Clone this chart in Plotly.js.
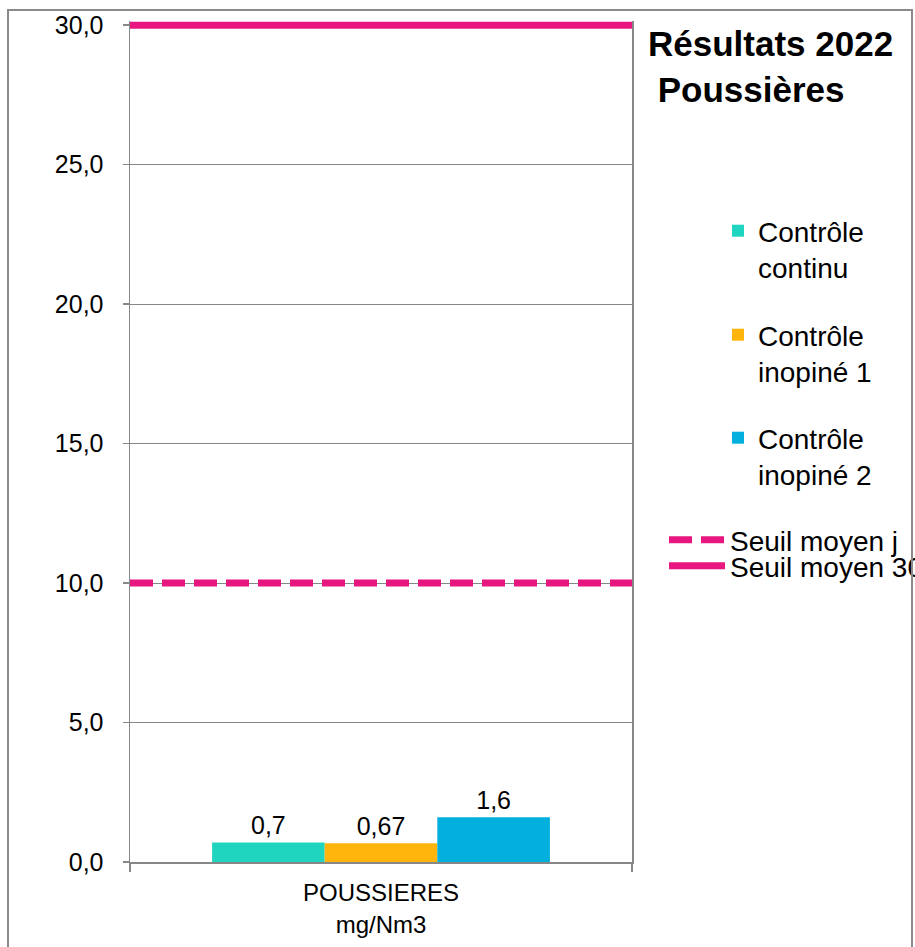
<!DOCTYPE html>
<html>
<head>
<meta charset="utf-8">
<script src="https://cdn.plot.ly/plotly-3.0.1.min.js"></script>
<style>
  html, body { margin: 0; padding: 0; background: #fff; }
  #chart { position: absolute; left: 0; top: 0; width: 915px; height: 947px; }
  #frame { position: absolute; left: 7px; top: 9px; width: 906px; height: 1000px;
           border: 2px solid #8a8a8a; box-sizing: border-box; pointer-events: none; }
</style>
</head>
<body>
<div id="chart"></div>
<div id="frame"></div>
<script>
// ---- data ----
const categories = ["POUSSIERES<br>mg/Nm3"];
const seriesNames = ["Contrôle<br>continu", "Contrôle<br>inopiné 1", "Contrôle<br>inopiné 2"];
const continuValues = [0.7];
const inopine1Values = [0.67];
const inopine2Values = [1.6];
const thresholdNames = ["Seuil moyen j", "Seuil moyen 30"];
const thresholdX = [0, 1];
const seuilJournalier = [10, 10];
const seuil30 = [30, 30];
const yTicks = [0, 5, 10, 15, 20, 25, 30];
const chartTitle = "<b>Résultats 2022</b><br><b>\u00A0Poussières</b>";

// ---- styles ----
const FONT = "Liberation Sans, Arial, sans-serif";
const colors = ["#20D5C0", "#FFB50C", "#02AFDD"];
const pink = "#E8177F";
const grey = "#878787";

const barVals = [continuValues, inopine1Values, inopine2Values];
const legendIds = ["legend", "legend2", "legend3"];

const traces = barVals.map((v, i) => ({
  type: "bar",
  x: categories,
  y: v,
  name: seriesNames[i],
  marker: { color: colors[i] },
  texttemplate: "%{y:.2~f}",
  textposition: "outside",
  textfont: { family: FONT, size: 25, color: "#000" },
  cliponaxis: false,
  legend: legendIds[i],
  hoverinfo: "skip"
}));

traces.push({
  type: "scatter", mode: "lines",
  x: thresholdX, y: seuilJournalier, xaxis: "x2",
  name: thresholdNames[0],
  line: { color: pink, width: 7, dash: "23px,9px" },
  legend: "legend4", hoverinfo: "skip", cliponaxis: false
});
traces.push({
  type: "scatter", mode: "lines",
  x: thresholdX, y: seuil30, xaxis: "x2",
  name: thresholdNames[1],
  line: { color: pink, width: 7 },
  legend: "legend5", hoverinfo: "skip", cliponaxis: false
});

// plot area: y=0 at 862px, y=30 at 25px; range top extended a little so the
// thick 30-line is not clipped
const YMAX = 30.15;
const L = 130, R = 632, B = 862;
const pxPerUnit = (862 - 25) / 30;
const T = Math.round(B - YMAX * pxPerUnit);
const px2x = p => (p - L) / (R - L);
const py2y = p => (B - p) / (B - T);

function leg(xpx, ypx, extra) {
  return Object.assign({
    x: px2x(xpx), xanchor: "left", y: py2y(ypx), yanchor: "middle",
    bgcolor: "rgba(0,0,0,0)", borderwidth: 0,
    font: { family: FONT, size: 28, color: "#000" },
    valign: "top"
  }, extra || {});
}

const layout = {
  width: 915, height: 947,
  margin: { l: L, r: 915 - R, t: T, b: 947 - B, pad: 0, autoexpand: false },
  paper_bgcolor: "#fff", plot_bgcolor: "#fff",
  font: { family: FONT, size: 24, color: "#000" },
  separators: ", ",
  barmode: "group",
  bargap: 0.327, bargroupgap: 0,
  showlegend: true,
  xaxis: {
    type: "category",
    tickson: "boundaries", ticks: "outside", ticklen: 8, tickcolor: grey, tickwidth: 1.5,
    showline: true, linecolor: grey, linewidth: 1.5,
    showgrid: false, zeroline: false,
    ticklabelstandoff: 9,
    tickfont: { family: FONT, size: 24, color: "#000" },
    fixedrange: true
  },
  xaxis2: { overlaying: "x", range: [0, 1], visible: false, fixedrange: true },
  yaxis: {
    range: [0, YMAX], tickvals: yTicks, tickformat: ".1f",
    ticks: "outside", ticklen: 6, tickcolor: grey, tickwidth: 1.5,
    showline: true, linecolor: grey, linewidth: 1.5, mirror: true,
    gridcolor: grey, gridwidth: 1, zeroline: false,
    ticklabelstandoff: 14,
    tickfont: { family: FONT, size: 25, color: "#000" },
    fixedrange: true
  },
  legend: leg(718, 249),
  legend2: leg(718, 353),
  legend3: leg(718, 456),
  legend4: leg(664, 540, { itemwidth: 56, valign: "middle" }),
  legend5: leg(664, 566, { itemwidth: 56, valign: "middle" }),
  annotations: [{
    text: chartTitle, xref: "paper", yref: "paper",
    x: px2x(646), y: py2y(22), xanchor: "left", yanchor: "top",
    align: "left", showarrow: false,
    font: { family: FONT, size: 35, color: "#000" }
  }]
};

Plotly.newPlot("chart", traces, layout, { displayModeBar: false, staticPlot: true });
</script>
</body>
</html>
